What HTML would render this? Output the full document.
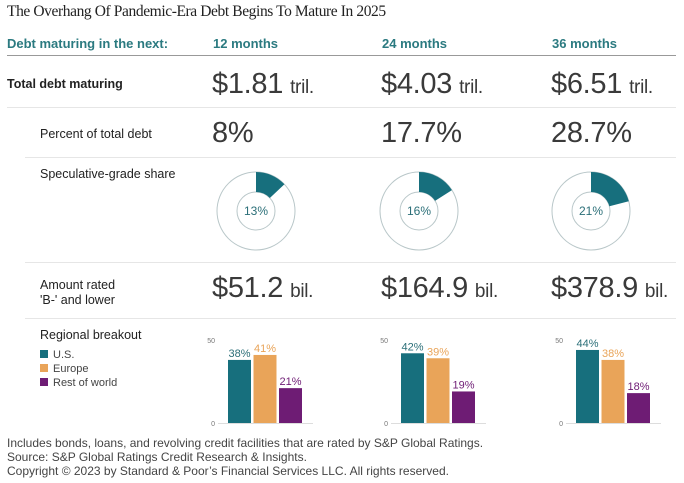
<!DOCTYPE html>
<html><head><meta charset="utf-8"><style>
body{margin:0;width:684px;height:483px;background:#fff;position:relative;overflow:hidden;font-family:"Liberation Sans",sans-serif;color:#222}
.a{position:absolute;white-space:nowrap}
.big{font-size:29px;color:#3a3a3a;letter-spacing:-0.3px}
.big small{font-size:19px;margin-left:7px}
.hd{color:#2b7a80;font-weight:bold;font-size:13px}
.lbl{font-size:12.5px;color:#222}
.ln{position:absolute;height:1px;background:#e6e6e6}
.ft{font-size:12px;color:#444}
</style></head><body>
<div class="a" style="left:7px;top:3px;font-family:'Liberation Serif',serif;font-size:15.5px;letter-spacing:-0.4px;color:#222">The Overhang Of Pandemic-Era Debt Begins To Mature In 2025</div>
<div class="a hd" style="left:7px;top:36px">Debt maturing in the next:</div>
<div class="a hd" style="left:213px;top:36px">12 months</div>
<div class="a hd" style="left:382px;top:36px">24 months</div>
<div class="a hd" style="left:552px;top:36px">36 months</div>
<div class="ln" style="left:7px;top:55px;width:669px;background:#999"></div>

<div class="a lbl" style="left:7px;top:77px;font-weight:bold">Total debt maturing</div>
<div class="a big" style="left:212px;top:68px">$1.81<small>tril.</small></div>
<div class="a big" style="left:381px;top:68px">$4.03<small>tril.</small></div>
<div class="a big" style="left:551px;top:68px">$6.51<small>tril.</small></div>
<div class="ln" style="left:7px;top:107px;width:669px"></div>

<div class="a lbl" style="left:40px;top:127px">Percent of total debt</div>
<div class="a big" style="left:212px;top:117px">8%</div>
<div class="a big" style="left:381px;top:117px">17.7%</div>
<div class="a big" style="left:551px;top:117px">28.7%</div>
<div class="ln" style="left:25px;top:157px;width:651px"></div>

<div class="a lbl" style="left:40px;top:167px">Speculative-grade share</div>
<div class="ln" style="left:25px;top:262px;width:651px"></div>

<div class="a lbl" style="left:40px;top:278px;line-height:15px">Amount rated<br>'B-' and lower</div>
<div class="a big" style="left:212px;top:272px">$51.2<small>bil.</small></div>
<div class="a big" style="left:381px;top:272px">$164.9<small>bil.</small></div>
<div class="a big" style="left:551px;top:272px">$378.9<small>bil.</small></div>
<div class="ln" style="left:25px;top:318px;width:651px"></div>

<div class="a lbl" style="left:40px;top:328px">Regional breakout</div>
<div class="a" style="left:40px;top:349px;font-size:11px;color:#444"><span style="display:inline-block;width:8px;height:8px;background:#176f7d;margin-right:5px"></span>U.S.</div>
<div class="a" style="left:40px;top:363px;font-size:11px;color:#444"><span style="display:inline-block;width:8px;height:8px;background:#e9a459;margin-right:5px"></span>Europe</div>
<div class="a" style="left:40px;top:377px;font-size:11px;color:#444"><span style="display:inline-block;width:8px;height:8px;background:#6e1c74;margin-right:5px"></span>Rest of world</div>

<svg id="viz" class="a" style="left:0;top:0" width="684" height="483"></svg>

<div class="a ft" style="left:7px;top:436px">Includes bonds, loans, and revolving credit facilities that are rated by S&amp;P Global Ratings.</div>
<div class="a ft" style="left:7px;top:450px">Source: S&amp;P Global Ratings Credit Research &amp; Insights.</div>
<div class="a ft" style="left:7px;top:464px">Copyright © 2023 by Standard &amp; Poor’s Financial Services LLC. All rights reserved.</div>

<script>
const periods=["12 months","24 months","36 months"];
const specShare=[13,16,21];
const regions=["U.S.","Europe","Rest of world"];
const usShare=[38,42,44];
const europeShare=[41,39,38];
const restShare=[21,19,18];
const yTicks=[0,50];
const colors=["#176f7d","#e9a459","#6e1c74"];
const NS="http://www.w3.org/2000/svg";
const svg=document.getElementById('viz');
function mk(t,at){const e=document.createElementNS(NS,t);for(const k in at)e.setAttribute(k,at[k]);svg.appendChild(e);return e;}
const donutX=[256,419,591], donutY=211, R=39, r=19;
const chartX=[218,391,566], base=423, top50=340;
function y(v){return base-(v-yTicks[0])/(yTicks[1]-yTicks[0])*(base-top50);}
periods.forEach((p,i)=>{
  const cx=donutX[i],cy=donutY;
  let c=mk('circle',{cx:cx,cy:cy,r:R,fill:'none',stroke:'#b9c7c9','stroke-width':1});
  
  
  c=mk('circle',{cx:cx,cy:cy,r:r,fill:'none',stroke:'#b9c7c9','stroke-width':1});
  
  
  const a=specShare[i]/100*2*Math.PI;
  const x1=cx+R*Math.sin(a),y1=cy-R*Math.cos(a),x2=cx+r*Math.sin(a),y2=cy-r*Math.cos(a);
  const large=a>Math.PI?1:0;
  const w=mk('path',{d:`M${cx},${cy-R} A${R},${R} 0 ${large} 1 ${x1},${y1} L${x2},${y2} A${r},${r} 0 ${large} 0 ${cx},${cy-r} Z`,fill:'#176f7d'});
  
  
  const t=mk('text',{x:cx,y:cy+4,'text-anchor':'middle','font-size':12,fill:'#2b6f78','font-family':'Liberation Sans'});
  t.textContent=specShare[i]+'%';
  
  
  const x0=chartX[i];
  const ax=mk('line',{x1:x0,x2:x0+95,y1:base+0.5,y2:base+0.5,stroke:'#ddd'});
  
  
  yTicks.forEach(tv=>{
    const tt=mk('text',{x:x0-3,y:y(tv)+3,'text-anchor':'end','font-size':7,fill:'#777','font-family':'Liberation Sans'});
    tt.textContent=tv;
    
    
  });
  const vals=[usShare[i],europeShare[i],restShare[i]];
  vals.forEach((v,j)=>{
    const bx=x0+10+j*25.5;
    const b=mk('rect',{x:bx,y:y(v),width:23,height:base-y(v),fill:colors[j]});
    
    
    const l=mk('text',{x:bx+11.5,y:y(v)-3,'text-anchor':'middle','font-size':11,fill:j==0?'#2b6f78':colors[j],'font-family':'Liberation Sans'});
    l.textContent=v+'%';
    
    
  });
});
</script>
</body></html>
